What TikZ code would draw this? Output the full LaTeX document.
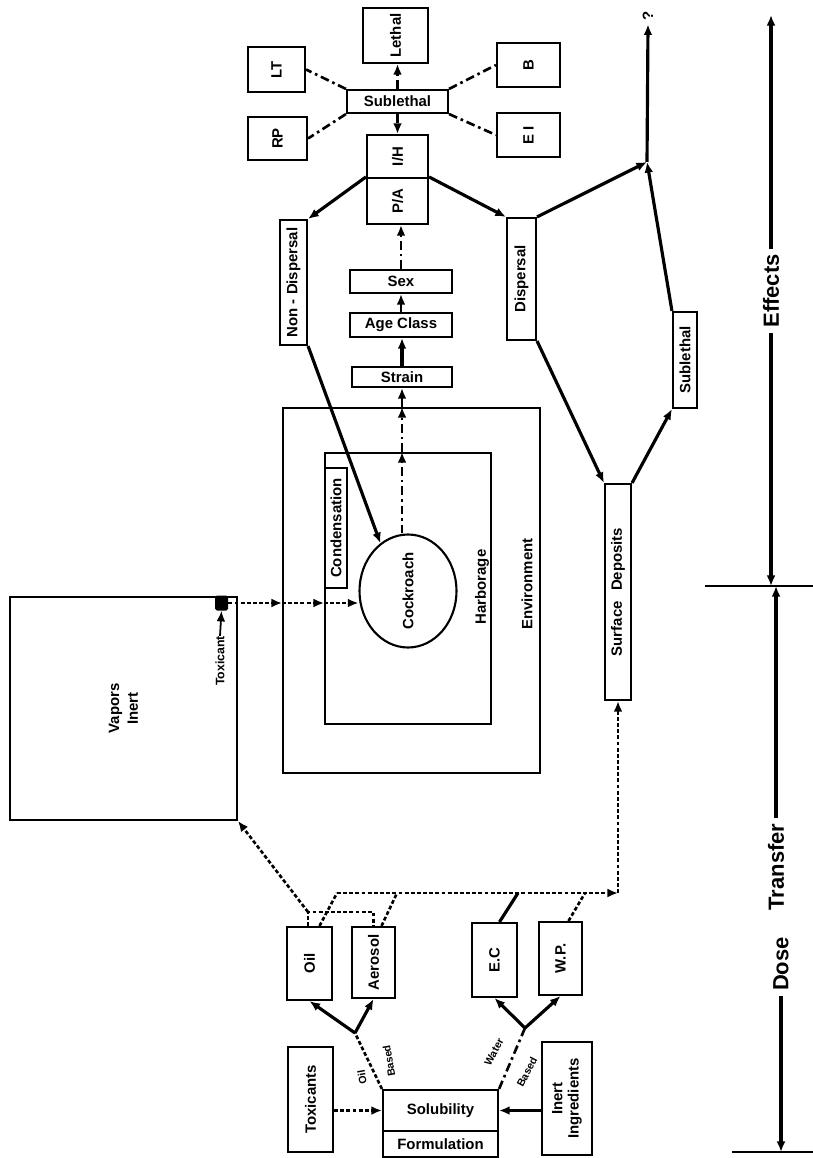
\documentclass[tikz,border=0pt]{standalone}
\usepackage{fontspec}
\setmainfont{Liberation Sans}
\usepackage{graphicx}
\usetikzlibrary{shapes,arrows,arrows.meta,positioning,calc}

\newcommand{\vtext}[1]{\rotatebox{90}{#1}}

\begin{document}
\begin{tikzpicture}[x=0.02cm, y=-0.02cm, >={Latex[length=6pt,width=5pt]},
    box/.style={draw, line width=1.2pt, rectangle, inner sep=0pt, font=\bfseries\fontsize{8.5}{9.5}\selectfont},
    frame/.style={draw, line width=1.1pt, inner sep=0pt},
    pbox/.style 2 args={minimum width=#1*0.02cm, minimum height=#2*0.02cm},
    lbl/.style={inner sep=0pt, font=\bfseries\fontsize{8.5}{9.5}\selectfont},
    smalllbl/.style={inner sep=0pt, font=\bfseries\fontsize{6}{6}\selectfont},
    axislbl/.style={inner sep=3pt, font=\bfseries\fontsize{12.5}{13}\selectfont},
    dotline/.style={line width=1.5pt, dash pattern=on 2.2pt off 1.3pt},
    chainline/.style={line width=1.5pt, dash pattern=on 5pt off 2.2pt on 1.5pt off 2.2pt},
    solidline/.style={line width=1.8pt}]
  \useasboundingbox (0,0) rectangle (813,1158);

  % effects, top of the page
  \node[box, pbox={65}{55}] (lethal) at (395.5,35.5) {\vtext{Lethal}};
  \node[box, pbox={101}{23}] (subl) at (397.5,101.5) {Sublethal};
  \node[box, pbox={57}{45}] (lt) at (276.5,69.5) {\vtext{LT}};
  \node[box, pbox={59}{43}] (rp) at (277.5,138.5) {\vtext{RP}};
  \node[box, pbox={63}{44}] (bb) at (528.5,65) {\vtext{B}};
  \node[box, pbox={63}{44}] (ei) at (528.5,135) {\vtext{E I}};
  \node[box, pbox={61}{43}] (ih) at (397.5,156.5) {\vtext{I/H}};
  \node[box, pbox={61}{46}] (pa) at (397.5,201) {\vtext{P/A}};
  \node[box, pbox={102}{23}] (sex) at (401,281.5) {Sex};
  \node[box, pbox={102}{24}] (age) at (401,325) {Age Class};
  \node[box, pbox={100}{20}] (strain) at (402,377) {Strain};
  \node[box, pbox={27}{125}] (nondisp) at (293.5,282.5) {\vtext{Non - Dispersal}};
  \node[box, pbox={29}{122}] (disp) at (521.5,279) {\vtext{Dispersal}};
  \node[box, pbox={24}{96}] (subl2) at (685,360) {\vtext{Sublethal}};
  \node[box, pbox={26}{216}] (surf) at (618,592) {\vtext{Surface\hspace{0.7em}Deposits}};
  \node[lbl, inner sep=2pt] (qm) at (648,16) {\vtext{?}};
  \coordinate (jn) at (647,162);

  \draw[chainline,->] (subl.north) -- (subl.north |- lethal.south);
  \draw[chainline,->] (subl.south) -- (subl.south |- ih.north);
  \draw[chainline] (subl.north west) -- (lt.east);
  \draw[chainline] (subl.south west) -- (rp.east);
  \draw[chainline] (subl.north east) -- (bb.west);
  \draw[chainline] (subl.south east) -- (ei.west);

  \draw[solidline,->] (pa.north west) -- (nondisp.north east);
  \draw[solidline,->] (pa.north east) -- (disp.north west);
  \draw[solidline,->] (disp.north east) -- (jn);
  \draw[solidline,->] (disp.south east) -- (surf.north west);
  \draw[solidline,->] (surf.north east) -- (subl2.south west);
  \draw[solidline,->] (subl2.north west) -- (jn);
  \draw[solidline,->] (jn) -- (qm.south);

  % transfer
  \node[frame, pbox={257}{365}] (env) at (411.5,590.5) {};
  \node[frame, pbox={166}{271}] (harb) at (408,588.5) {};
  \node[box, pbox={22}{120}] (cond) at (336,528) {\vtext{Condensation}};
  \node[lbl] (harblbl) at (482,587) {\vtext{Harborage}};
  \node[lbl] (envlbl) at (527,584) {\vtext{Environment}};
  \node[draw, ellipse, line width=1.2pt, pbox={97}{113}, inner sep=0pt,
    font=\bfseries\fontsize{8.5}{9.5}\selectfont] (roach) at (408,591) {\vtext{Cockroach}};
  \node[frame, pbox={227}{223}, font=\bfseries\fontsize{8.5}{9.5}\selectfont] (vap) at (123.5,708.5) {\vtext{\shortstack{Vapors\\Inert}}};
  \node[fill, rounded corners=1pt, pbox={13}{15}, inner sep=0pt] (sq) at (221.5,603) {};
  \node[inner sep=0pt, font=\bfseries\fontsize{7}{7}\selectfont] (toxlbl) at (220,661) {\vtext{Toxicant}};

  \draw[->, line width=1pt] (toxlbl.north) -- (sq.south);
  \draw[dotline,->] (sq.east) -- (sq.east -| env.west);
  \draw[dotline,->] (sq.east -| env.west) -- (sq.east -| harb.west);
  \draw[dotline,->] (sq.east -| harb.west) -- (roach.west |- sq.east);
  \draw[solidline,->] (nondisp.south east) -- (roach.120);

  \draw[chainline,->] (strain.south |- roach.north) -- (strain.south |- harb.north);
  \draw[chainline,->] (strain.south |- harb.north) -- (strain.south |- env.north);
  \draw[chainline,->] (strain.south |- env.north) -- (strain.south);
  \draw[solidline,->] (strain.north) -- (strain.north |- age.south);
  \draw[chainline,->] (age.north) -- (age.north |- sex.south);
  \draw[chainline,->] (sex.north) -- (sex.north |- pa.south);

  % dose
  \node[box, pbox={45}{73}] (oil) at (309.5,963.5) {\vtext{Oil}};
  \node[box, pbox={43}{71}] (aerosol) at (373.5,962.5) {\vtext{Aerosol}};
  \node[box, pbox={45}{74}] (ec) at (494.5,960) {\vtext{E.C}};
  \node[box, pbox={43}{73}] (wp) at (560.5,958.5) {\vtext{W.P.}};
  \node[box, pbox={45}{105}] (toxicants) at (310.5,1099.5) {\vtext{Toxicants}};
  \node[box, pbox={50}{113}] (inert) at (567,1098.5) {\vtext{\shortstack{Inert\\Ingredients}}};
  \node[box, pbox={115}{41}] (solub) at (440.5,1110.5) {Solubility};
  \node[box, pbox={115}{26}] (formul) at (440.5,1144) {Formulation};
  \coordinate (ob) at (355,1033);
  \coordinate (wb) at (525,1028);
  \coordinate (o1) at (308,912);
  \coordinate (h1) at (337,893);

  \draw[dotline,->] (toxicants.east |- solub) -- (solub.west);
  \draw[solidline,->] (inert.west |- solub) -- (solub.east);
  \draw[dotline] (solub.north west) -- (ob);
  \draw[solidline,->] (ob) -- (oil.south);
  \draw[solidline,->] (ob) -- (aerosol.south);
  \draw[chainline] (solub.north east) -- (wb);
  \draw[solidline,->] (wb) -- (ec.south);
  \draw[solidline,->] (wb) -- (wp.south);
  \node[smalllbl, rotate=100] (oillbl) at (362,1077) {Oil};
  \node[smalllbl, rotate=100] (basedA) at (389,1061) {Based};
  \node[smalllbl, rotate=62] (waterlbl) at (494,1052) {Water};
  \node[smalllbl, rotate=62] (basedB) at (527,1072) {Based};

  \draw[dotline] (oil.north -| o1) -- (o1) -- (o1 -| aerosol.north) -- (aerosol.north);
  \draw[dotline,->] (o1) -- (vap.south east);
  \draw[dotline] ($(oil.north)+(10,0)$) -- (h1);
  \draw[dotline] ($(aerosol.north)+(8,0)$) -- ($(h1)+(60,0)$);
  \draw[solidline] ($(ec.north)+(5,0)$) -- ($(h1)+(181,0)$);
  \draw[dotline] ($(wp.north)+(8,0)$) -- ($(h1)+(248,0)$);
  \draw[dotline,->] (h1) -- (surf.south |- h1);
  \draw[dotline,->] (surf.south |- h1) -- (surf.south);

  % scale on the right
  \node[axislbl] (effects) at (771,291) {\vtext{Effects}};
  \node[axislbl] (transfer) at (776,867) {\vtext{Transfer}};
  \node[axislbl] (dose) at (781,964) {\vtext{Dose}};
  \coordinate (tickA) at (705,586);
  \coordinate (tickB) at (732,1152);
  \draw[line width=1.2pt] (tickA) -- (813,586);
  \draw[line width=1.2pt] (tickB) -- (813,1152);
  \draw[solidline,->] (effects.north) -- (effects.north |- 0,15);
  \draw[solidline,->] (effects.south) -- (effects.south |- tickA);
  \draw[solidline,->] (transfer.north) -- (transfer.north |- tickA);
  \draw[solidline,->] (dose.south) -- (dose.south |- tickB);
\end{tikzpicture}
\end{document}
